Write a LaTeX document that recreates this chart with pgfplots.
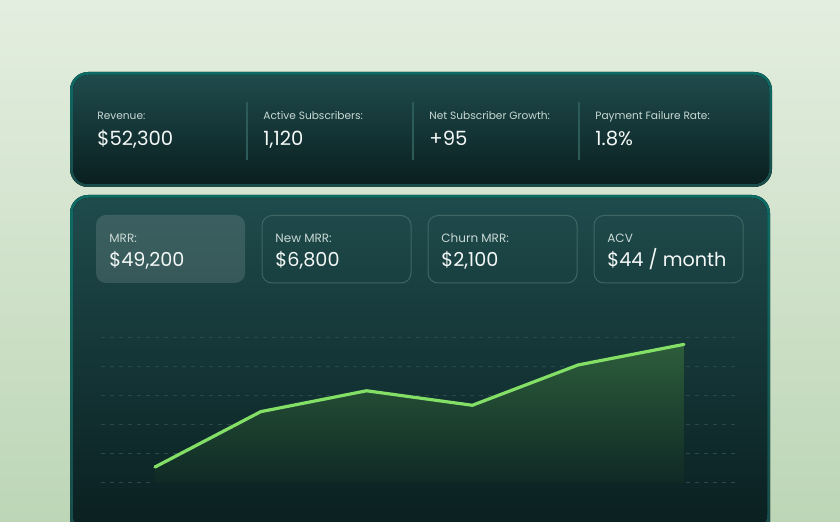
\documentclass[border=0pt]{standalone}
\usepackage{pgfplots}
\pgfplotsset{compat=1.18}
\usepackage{fontspec}
\setmainfont{Poppins}
\definecolor{bgtop}{HTML}{E4EEE0}
\definecolor{bgbot}{HTML}{BDD6B6}
\definecolor{bordtop}{HTML}{0E6B64}
\definecolor{bordbot}{HTML}{1A4B49}
\definecolor{cardtop}{HTML}{1F4B4C}
\definecolor{cardbot}{HTML}{0A1F20}
\definecolor{lbl}{HTML}{C9D8D4}
\definecolor{val}{HTML}{F4F8F6}
\definecolor{divc}{HTML}{2C5B59}
\definecolor{boxb}{HTML}{3E6663}
\definecolor{gridc}{HTML}{284A48}
\definecolor{linec}{HTML}{84DF66}
\definecolor{filltop}{HTML}{2D5D3B}
\definecolor{fillbot}{HTML}{0F2925}
\begin{document}
\begin{tikzpicture}
\begin{scope}[x=0.5pt,y=-0.5pt]
\useasboundingbox (0,0) rectangle (840,522);
\clip (0,0) rectangle (840,522);
\fill[top color=bgtop,bottom color=bgbot] (0,0) rectangle (840,522);
% top card
\fill[top color=bordtop,bottom color=bordbot,rounded corners=9pt] (70,72) rectangle (772,187);
\fill[top color=cardtop,bottom color=cardbot,rounded corners=7.7pt] (73,75) rectangle (769,184);
\foreach \x in {247,413,579} \draw[divc,line width=0.6pt] (\x,102) -- (\x,160);
\foreach \x/\l/\v in {97/Revenue:/{\$52,300},263/Active Subscribers:/{1,120},429/Net Subscriber Growth:/{+95},595/Payment Failure Rate:/{1.8\%}} {
  \node[anchor=base west,inner sep=0pt,text=lbl,font=\fontsize{5.3pt}{6pt}\selectfont] at (\x,120) {\l};
  \node[anchor=base west,inner sep=0pt,text=val,font=\fontsize{9.8pt}{11pt}\selectfont] at (\x,146) {\v};
}
% second card
\fill[top color=bordtop,bottom color=bordbot,rounded corners=9pt] (70,195) rectangle (770,540);
\fill[top color=cardtop,bottom color=cardbot,rounded corners=7.7pt] (73,198) rectangle (767,530);
\fill[white,opacity=0.13,rounded corners=5pt] (96,215) rectangle (245,283);
\foreach \a/\b in {262/411,428/577,594/743} \draw[boxb,line width=0.5pt,rounded corners=5pt] (\a,215.5) rectangle (\b,283);
\foreach \x/\l/\v in {109/MRR:/{\$49,200},275/New MRR:/{\$6,800},441/Churn MRR:/{\$2,100},607/ACV/{\$44 / month}} {
  \node[anchor=base west,inner sep=0pt,text=lbl,font=\fontsize{6pt}{7pt}\selectfont] at (\x,243) {\l};
  \node[anchor=base west,inner sep=0pt,text=val,font=\fontsize{9.6pt}{11pt}\selectfont] at (\x,267) {\v};
}
\end{scope}
\begin{axis}[
  at={(50.5pt,-241.5pt)}, anchor=south west,
  scale only axis, width=319.5pt, height=72.5pt,
  xmin=-0.51, xmax=5.53, ymin=0, ymax=5,
  axis line style={draw=none}, ticks=none,
  ytick={0,1,2,3,4,5}, ymajorgrids,
  grid style={gridc,dash pattern=on 2pt off 2.5pt,line width=0.5pt},
  clip=false,
]
\addplot[draw=none,top color=filltop,bottom color=fillbot] coordinates {(0,0.55) (1,2.46) (2,3.18) (3,2.68) (4,4.07) (5,4.78)} \closedcycle;
\addplot[linec,line width=1.6pt,line join=round,line cap=round] coordinates {(0,0.55) (1,2.46) (2,3.18) (3,2.68) (4,4.07) (5,4.78)};
\end{axis}
\end{tikzpicture}
\end{document}
